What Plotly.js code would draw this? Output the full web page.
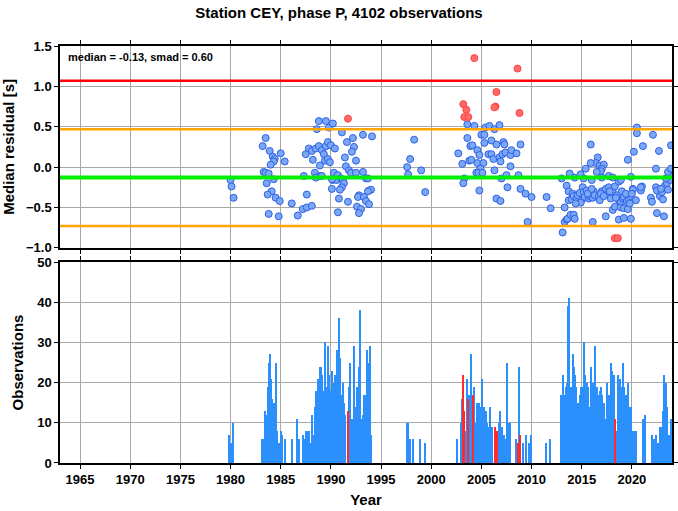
<!DOCTYPE html>
<html>
<head>
<meta charset="utf-8">
<script src="https://cdn.plot.ly/plotly-3.0.1.min.js"></script>
<style>html,body{margin:0;padding:0;background:#fff;}#chart{width:678px;height:511px;}</style>
</head>
<body>
<div id="chart"></div>
<script>
// ---- Data ----
const titleText = "Station CEY, phase P, 4102 observations";
const medianVal = -0.13;
const smadVal = 0.60;

// Blue points: year, median residual
const blueYears = [
1980.0,1980.1,1980.3,1983.2,1983.5,1983.9,1984.2,1984.4,1984.3,1984.0,1985.0,1985.4,1983.3,1983.5,1983.8,1984.3,1983.6,1984.1,1983.7,1984.5,
1984.9,1986.1,1983.8,1984.8,1986.7,1987.2,1987.6,1988.1,1987.6,1987.3,1987.5,1987.8,1988.1,1988.2,1988.5,1988.8,1989.1,1989.3,1989.5,1989.7,
1990.0,1989.4,1989.7,1989.9,1988.9,1988.4,1988.9,1988.6,1988.8,1989.5,1989.8,1990.2,1990.4,1991.1,1992.2,1993.2,1994.1,1991.6,1992.3,1992.1,
1991.4,1992.5,1991.5,1991.8,1992.0,1992.5,1993.2,1993.5,1993.7,1990.3,1990.7,1990.2,1990.6,1991.0,1991.2,1991.3,1991.1,1990.1,1990.9,1993.8,
1994.0,1993.7,1992.8,1992.7,1993.3,1993.5,1993.8,1990.8,1991.7,1992.6,1993.0,1992.8,1990.7,1990.1,1988.5,1989.1,
1998.3,1997.9,1997.6,1997.7,1999.0,1999.4,
2003.6,2004.3,2005.4,2005.8,2006.3,2006.8,2005.0,2005.3,2003.6,2006.0,2005.3,2003.9,2004.1,2006.5,2007.2,2007.3,2008.9,2004.6,2004.8,2002.7,
2005.7,2006.0,2006.2,2006.8,2007.1,2007.4,2007.9,2008.0,2008.5,2006.9,2003.8,2004.0,2003.1,2004.6,2005.2,2004.9,2004.5,2004.7,2005.1,2006.3,
2007.9,2003.3,2003.2,2007.0,2007.5,2008.7,2004.8,2007.6,2008.9,2009.4,2010.0,2006.5,2006.9,2009.6,
2011.5,2011.9,2013.1,2013.3,2013.3,2013.5,2013.6,2013.9,2014.2,2014.3,2013.0,2013.5,2013.7,2013.8,2013.7,2014.0,2014.1,2014.2,2014.5,2014.6,
2014.8,2015.0,2014.9,2015.1,2015.2,2015.3,2015.5,2015.7,2015.8,2016.1,2016.2,2016.3,2016.7,2017.0,2016.8,2017.4,2017.6,2017.7,2017.9,2018.1,
2018.3,2018.5,2018.7,2018.9,2019.1,2019.2,2019.5,2019.7,2019.9,2020.1,2020.4,2020.9,2021.0,2021.9,2022.0,2022.4,2022.5,2022.8,2023.0,2023.3,
2023.5,2023.8,2023.4,2023.7,2017.4,2018.1,2018.3,2018.7,2019.2,2019.9,2016.1,2018.9,2019.2,2019.6,2022.5,2023.2,2015.9,2016.6,2016.4,2015.9,
2016.8,2017.2,2017.0,2016.9,2016.5,2015.4,2014.9,2015.2,2017.0,2017.7,2018.1,2018.7,2018.9,2019.9,2019.6,2020.2,2020.5,2020.5,2021.1,2022.1,
2022.7,2022.4,2023.6,2023.9,2023.9,2020.9,2020.1,2014.4,2015.6,2016.0,2016.9,2017.2,2017.8,2018.4,2019.0,2019.4,2019.8,2020.0,2022.9,2023.1,
2023.6,2014.3,2016.0
];
const blueValues = [
-0.16,-0.24,-0.38,0.26,0.36,0.20,0.13,0.10,0.07,0.03,0.17,0.07,-0.06,-0.07,-0.08,-0.15,-0.20,-0.30,-0.34,-0.38,
-0.42,-0.45,-0.58,-0.61,-0.60,-0.52,-0.50,-0.48,-0.34,-0.11,0.16,0.23,0.20,0.09,0.23,0.26,0.21,0.16,0.26,0.31,
0.27,0.08,0.10,0.06,0.02,-0.07,-0.11,0.47,0.57,0.57,0.49,0.54,0.23,0.43,0.36,0.40,0.38,0.31,0.25,0.19,
0.12,0.08,0.01,-0.04,-0.07,-0.07,-0.06,-0.14,-0.14,-0.07,-0.10,-0.16,-0.16,-0.14,-0.16,-0.20,-0.25,-0.27,-0.28,-0.29,
-0.28,-0.30,-0.35,-0.37,-0.37,-0.42,-0.46,-0.39,-0.43,-0.49,-0.52,-0.57,-0.56,-0.15,-0.13,-0.11,
0.34,0.10,0.00,-0.09,-0.04,-0.31,
0.53,0.51,0.49,0.51,0.47,0.52,0.40,0.40,0.36,0.33,0.30,0.26,0.27,0.28,0.31,0.28,0.28,0.21,0.15,0.17,
0.16,0.16,0.10,0.12,0.16,0.18,0.15,0.21,0.17,0.07,0.08,0.09,0.04,0.05,0.05,-0.02,-0.07,-0.07,-0.07,-0.04,
0.01,-0.14,-0.20,-0.14,-0.10,-0.10,-0.29,-0.25,-0.27,-0.33,-0.37,-0.39,-0.42,-0.68,
-0.37,-0.51,-0.81,-0.50,-0.68,-0.65,-0.64,-0.59,-0.59,-0.64,-0.14,-0.23,-0.30,-0.08,-0.41,-0.40,-0.33,-0.36,-0.39,-0.35,
-0.32,-0.41,-0.44,-0.25,-0.31,-0.37,-0.29,-0.39,-0.36,-0.38,-0.30,-0.35,-0.37,-0.30,-0.41,-0.27,-0.34,-0.25,-0.39,-0.31,
-0.24,-0.35,-0.41,-0.43,-0.39,-0.37,-0.42,-0.41,-0.36,-0.27,-0.41,-0.29,-0.24,-0.38,-0.43,-0.25,-0.29,-0.36,-0.31,-0.23,
-0.20,-0.16,-0.14,-0.10,-0.61,-0.53,-0.49,-0.65,-0.63,-0.64,-0.68,-0.50,-0.51,-0.52,-0.57,-0.61,0.28,0.12,0.05,0.05,
0.02,0.03,-0.02,-0.05,-0.06,-0.02,-0.09,-0.14,-0.13,-0.11,-0.13,-0.18,-0.16,-0.12,0.09,0.19,0.49,0.42,0.26,0.40,
0.20,-0.02,-0.06,-0.02,0.27,-0.25,-0.28,-0.45,-0.33,-0.27,-0.33,-0.36,-0.30,-0.38,-0.30,-0.33,-0.45,-0.33,-0.27,-0.40,
-0.28,-0.13,-0.16
];

// Red (outlier) points
const redYears  = [1991.7,2003.2,2003.5,2003.3,2003.7,2004.3,2006.5,2006.4,2006.3,2008.6,2008.8,2018.3,2018.6];
const redValues = [0.60,0.78,0.71,0.62,0.62,1.35,0.93,0.75,0.74,1.22,0.67,-0.88,-0.88];

// Observation counts (bars)
const barYears = [
1979.9,1980.1,1980.3,1983.2,1983.3,1983.4,1983.5,1983.6,1983.8,1983.9,1984.0,1984.1,1984.2,1984.3,1984.4,1984.5,1984.6,1984.8,1985.0,1985.1,
1985.4,1986.1,1986.6,1986.8,1987.2,1987.4,1987.5,1987.7,1987.8,1988.0,1988.1,1988.2,1988.3,1988.4,1988.5,1988.7,1988.8,1988.9,1989.0,1989.1,
1989.2,1989.3,1989.4,1989.5,1989.6,1989.7,1989.8,1989.9,1990.0,1990.1,1990.2,1990.3,1990.4,1990.5,1990.6,1990.8,1990.9,1991.0,1991.2,1991.3,
1991.4,1991.8,1991.9,1992.1,1992.3,1992.4,1992.6,1992.8,1992.9,1993.0,1993.2,1993.3,1993.5,1993.6,1993.8,1993.9,1994.0,
1997.6,1997.7,1997.9,1998.2,1998.9,1999.4,
2002.6,2003.0,2003.1,2003.4,2003.6,2003.8,2003.9,2004.0,2004.3,2004.4,2004.6,2004.7,2004.8,2005.0,2005.1,2005.3,2005.5,2005.6,2005.8,2005.9,
2006.1,2006.8,2006.9,2007.1,2007.3,2007.4,2007.6,2007.8,2007.9,2008.5,2008.8,2009.2,2009.5,2009.8,2010.0,2011.5,2011.9,
2013.0,2013.1,2013.2,2013.3,2013.4,2013.5,2013.6,2013.7,2013.8,2013.9,2014.0,2014.2,2014.3,2014.4,2014.5,2014.6,2014.7,2014.8,2014.9,2015.0,
2015.2,2015.3,2015.4,2015.5,2015.6,2015.8,2015.9,2016.1,2016.2,2016.3,2016.5,2016.6,2016.8,2016.9,2017.0,2017.2,2017.3,2017.5,2017.7,2017.9,
2018.0,2018.2,2018.5,2018.6,2018.7,2018.8,2019.0,2019.1,2019.2,2019.4,2019.5,2019.6,2019.7,2019.9,2020.1,2020.2,2020.4,2021.1,2021.3,
2022.0,2022.2,2022.4,2022.6,2022.7,2022.8,2023.0,2023.1,2023.2,2023.4,2023.5,2023.7,2023.8,2023.9
];
const barCounts = [
7,5,10,6,6,5,13,12,19,25,27,21,16,15,12,25,8,5,8,7,
6,6,11,6,7,6,8,8,8,5,12,7,6,14,18,21,13,24,24,22,
18,13,30,19,19,29,22,17,18,23,20,11,22,22,28,36,26,17,20,15,
12,19,25,11,29,14,19,24,38,11,12,17,17,28,25,29,7,
10,10,6,6,6,5,
6,10,16,8,21,17,14,27,19,10,15,15,15,14,21,14,13,10,9,14,
9,10,13,9,7,6,25,10,10,6,24,5,7,5,7,5,6,
17,14,22,17,14,19,20,39,41,19,19,27,24,22,19,12,15,17,19,19,
30,22,17,20,19,14,24,20,14,29,19,17,18,19,17,15,11,20,17,25,
23,22,8,22,19,21,19,25,19,17,16,20,14,14,8,8,8,11,12,
7,6,7,5,5,9,9,13,22,20,14,7,7,11
];
const redBarYears  = [1991.7,2003.2,2003.3,2003.7,2004.2,2006.4,2006.6,2008.7,2008.9,2018.3];
const redBarCounts = [13,22,13,16,17,9,8,5,7,11];

const xTickVals = [1965,1970,1975,1980,1985,1990,1995,2000,2005,2010,2015,2020];
const yTopTicks = [-1.0,-0.5,0.0,0.5,1.0,1.5];
const yBotTicks = [0,10,20,30,40,50];

// ---- Plot ----
const FONT = "Liberation Sans, Arial, Helvetica, sans-serif";
const tickFont = {family: FONT, size: 13, color: "#000", weight: "bold"};

const traces = [
  {type: "bar", x: barYears, y: barCounts, xaxis: "x2", yaxis: "y2",
   width: 0.14, marker: {color: "#2b8ffc", line: {width: 0}}, hoverinfo: "x+y"},
  {type: "bar", x: redBarYears, y: redBarCounts, xaxis: "x2", yaxis: "y2",
   width: 0.14, marker: {color: "#ff2a2a", line: {width: 0}}, hoverinfo: "x+y"},
  {type: "scatter", mode: "markers", x: blueYears, y: blueValues, xaxis: "x", yaxis: "y",
   marker: {size: 7, color: "#7aa8f5", line: {color: "#2f5fe8", width: 1}}},
  {type: "scatter", mode: "markers", x: redYears, y: redValues, xaxis: "x", yaxis: "y",
   marker: {size: 7, color: "#ff6a6a", line: {color: "#ff4040", width: 1}}}
];

const axisCommon = {
  showline: true, linecolor: "#000", linewidth: 1.5, mirror: "ticks",
  ticks: "outside", ticklen: 4, tickcolor: "#000", tickwidth: 1,
  showgrid: true, gridcolor: "#a8a8a8", gridwidth: 1, zeroline: false,
  tickfont: tickFont
};

const layout = {
  width: 678, height: 511,
  margin: {l: 60, r: 6, t: 46, b: 48},
  paper_bgcolor: "#fff", plot_bgcolor: "#fff",
  showlegend: false, barmode: "overlay", bargap: 0,
  title: {text: titleText, x: 0.5, xanchor: "center", y: 0.985, yanchor: "top",
          font: {family: FONT, size: 15, color: "#000", weight: "bold"}},
  xaxis: Object.assign({}, axisCommon, {range: [1963, 2024], tickvals: xTickVals, showticklabels: false, anchor: "y"}),
  yaxis: Object.assign({}, axisCommon, {domain: [0.516, 1], range: [-1.0, 1.5], tickvals: yTopTicks, tickformat: ".1f",
          title: {text: "Median residual [s]", standoff: 10, font: {family: FONT, size: 15, color: "#000", weight: "bold"}}}),
  xaxis2: Object.assign({}, axisCommon, {range: [1963, 2024], tickvals: xTickVals, anchor: "y2", matches: "x",
          title: {text: "Year", standoff: 8, font: {family: FONT, size: 15, color: "#000", weight: "bold"}}}),
  yaxis2: Object.assign({}, axisCommon, {domain: [0, 0.482], range: [0, 50], tickvals: yBotTicks,
          title: {text: "Observations", standoff: 10, font: {family: FONT, size: 15, color: "#000", weight: "bold"}}}),
  shapes: [
    {type: "line", xref: "x domain", yref: "y", x0: 0, x1: 1, y0: medianVal + 2*smadVal, y1: medianVal + 2*smadVal, line: {color: "#ff0000", width: 2.5}},
    {type: "line", xref: "x domain", yref: "y", x0: 0, x1: 1, y0: medianVal + smadVal, y1: medianVal + smadVal, line: {color: "#ffa500", width: 2.5}},
    {type: "line", xref: "x domain", yref: "y", x0: 0, x1: 1, y0: medianVal - smadVal, y1: medianVal - smadVal, line: {color: "#ffa500", width: 2.5}},
    {type: "line", xref: "x domain", yref: "y", x0: 0, x1: 1, y0: medianVal, y1: medianVal, line: {color: "#00ee00", width: 4}}
  ],
  annotations: [
    {xref: "x domain", yref: "y domain", x: 0.01, y: 0.985, xanchor: "left", yanchor: "top", showarrow: false,
     text: "median = " + medianVal.toFixed(2) + ", smad = " + smadVal.toFixed(2),
     font: {family: FONT, size: 11, color: "#000", weight: "bold"}}
  ]
};

Plotly.newPlot("chart", traces, layout, {displayModeBar: false});
</script>
</body>
</html>
